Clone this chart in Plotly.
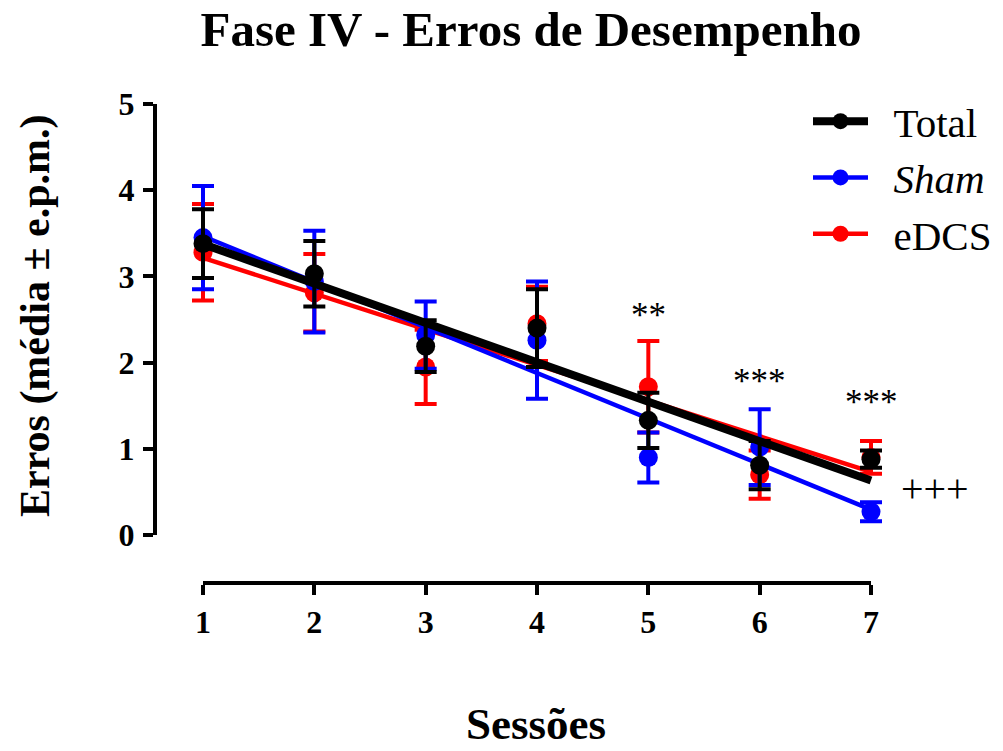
import numpy as np
import plotly.graph_objects as go

# Session numbers and group statistics (mean ± s.e.m.)
sessions = [1, 2, 3, 4, 5, 6, 7]
total_mean = [3.38, 3.03, 2.19, 2.40, 1.33, 0.81, 0.88]
total_sem = [0.40, 0.38, 0.30, 0.45, 0.32, 0.28, 0.10]
sham_mean = [3.45, 2.94, 2.32, 2.26, 0.90, 1.02, 0.27]
sham_sem = [0.60, 0.59, 0.39, 0.68, 0.29, 0.44, 0.11]
edcs_mean = [3.28, 2.81, 1.95, 2.45, 1.72, 0.70, 0.90]
edcs_sem = [0.56, 0.45, 0.43, 0.43, 0.53, 0.28, 0.19]

x_ticks = [1, 2, 3, 4, 5, 6, 7]
y_ticks = [0, 1, 2, 3, 4, 5]

# significance marks: (session, height, text)
sig_marks = [(5, 2.55, "**"), (6, 1.78, "***"), (7, 1.54, "***")]
plus_mark = (7.575, 0.54, "+++")

FONT = "Liberation Serif"
W, H = 1003, 751

# pixel frame of the offset (Prism-style) axes
x_left_px, x_right_px = 203, 871
y_bottom_px, y_top_px = 535, 104
xaxis_line_px = 583
yaxis_line_px = 155

ppx = (x_right_px - x_left_px) / (x_ticks[-1] - x_ticks[0])
ppy = (y_bottom_px - y_top_px) / (y_ticks[-1] - y_ticks[0])
x_range = [x_ticks[0] - x_left_px / ppx, x_ticks[-1] + (W - x_right_px) / ppx]
y_range = [y_ticks[0] - (H - y_bottom_px) / ppy, y_ticks[-1] + y_top_px / ppy]

groups = [
    ("eDCS", edcs_mean, edcs_sem, "#ff0000", 4.5),
    ("<i>Sham</i>", sham_mean, sham_sem, "#0000ff", 4.5),
    ("Total", total_mean, total_sem, "#000000", 8),
]

fig = go.Figure()

for name, mean, sem, color, lw in groups:
    # group means with error bars
    fig.add_trace(go.Scatter(
        x=sessions, y=mean, mode="markers",
        marker=dict(color=color, size=19),
        error_y=dict(type="data", array=sem, visible=True,
                     color=color, thickness=4, width=11),
        showlegend=False, hoverinfo="skip", cliponaxis=False,
    ))
    # linear regression across sessions
    slope, intercept = np.polyfit(sessions, mean, 1)
    fx = [sessions[0], sessions[-1]]
    fig.add_trace(go.Scatter(
        x=fx, y=[slope * v + intercept for v in fx], mode="lines",
        line=dict(color=color, width=lw),
        showlegend=False, hoverinfo="skip",
    ))

# legend entries
GAP = "\u00a0\u00a0"
for name, mean, sem, color, lw in reversed(groups):
    fig.add_trace(go.Scatter(
        x=[None], y=[None], mode="lines+markers", name=GAP + name,
        line=dict(color=color, width=lw),
        marker=dict(color=color, size=16),
        legendgroup=name,
    ))

# carrier trace for the visible axes
fig.add_trace(go.Scatter(x=[None], y=[None], xaxis="x2", yaxis="y2",
                         showlegend=False, hoverinfo="skip"))

annotations = []
for sx, sy, txt in sig_marks:
    annotations.append(dict(x=sx, y=sy, xref="x", yref="y", text=txt,
                            xanchor="center", yanchor="middle",
                            showarrow=False, font=dict(family=FONT, size=35, color="black")))
annotations.append(dict(x=plus_mark[0], y=plus_mark[1], xref="x", yref="y", text=plus_mark[2],
                        xanchor="center", yanchor="middle",
                        showarrow=False, font=dict(family=FONT, size=40, color="black")))
annotations.append(dict(x=35 / W, y=1 - 316 / H, xref="paper", yref="paper",
                        xanchor="center", yanchor="middle",
                        text="Erros (média ± e.p.m.)", textangle=-90, showarrow=False,
                        font=dict(family=FONT, size=42, color="black", weight="bold")))
annotations.append(dict(x=536 / W, y=1 - 724 / H, xref="paper", yref="paper",
                        xanchor="center", yanchor="middle",
                        text="Sessões", showarrow=False,
                        font=dict(family=FONT, size=45, color="black", weight="bold")))

axis_font = dict(family=FONT, size=32, color="black", weight="bold")

fig.update_layout(
    width=W, height=H,
    margin=dict(l=0, r=0, t=0, b=0, autoexpand=False),
    paper_bgcolor="white", plot_bgcolor="rgba(0,0,0,0)",
    title=dict(text="<b>Fase IV - Erros de Desempenho</b>", x=531 / W, xanchor="center",
               y=1 - 29 / H, yanchor="middle", yref="container",
               font=dict(family=FONT, size=49, color="black")),
    xaxis=dict(range=x_range, domain=[0, 1], visible=False, fixedrange=True),
    yaxis=dict(range=y_range, domain=[0, 1], visible=False, fixedrange=True),
    xaxis2=dict(range=[x_ticks[0], x_ticks[-1]],
                domain=[x_left_px / W, x_right_px / W],
                anchor="free", position=1 - xaxis_line_px / H,
                showline=True, linewidth=4, linecolor="black",
                ticks="outside", ticklen=10, tickwidth=4, tickcolor="black",
                tickvals=x_ticks, tickfont=axis_font, ticklabelstandoff=0,
                showgrid=False, zeroline=False, fixedrange=True),
    yaxis2=dict(range=[y_ticks[0], y_ticks[-1]],
                domain=[1 - y_bottom_px / H, 1 - y_top_px / H],
                anchor="free", position=yaxis_line_px / W,
                showline=True, linewidth=4, linecolor="black",
                ticks="outside", ticklen=10, tickwidth=4, tickcolor="black",
                tickvals=y_ticks, tickfont=axis_font, ticklabelstandoff=2,
                showgrid=False, zeroline=False, fixedrange=True),
    legend=dict(x=808 / W, y=1 - 88 / H, xanchor="left", yanchor="top",
                bgcolor="rgba(0,0,0,0)", itemwidth=55, tracegroupgap=0,
                font=dict(family=FONT, size=41, color="black"),
                itemsizing="trace"),
    annotations=annotations,
    showlegend=True,
)

fig.write_html("out.html")
